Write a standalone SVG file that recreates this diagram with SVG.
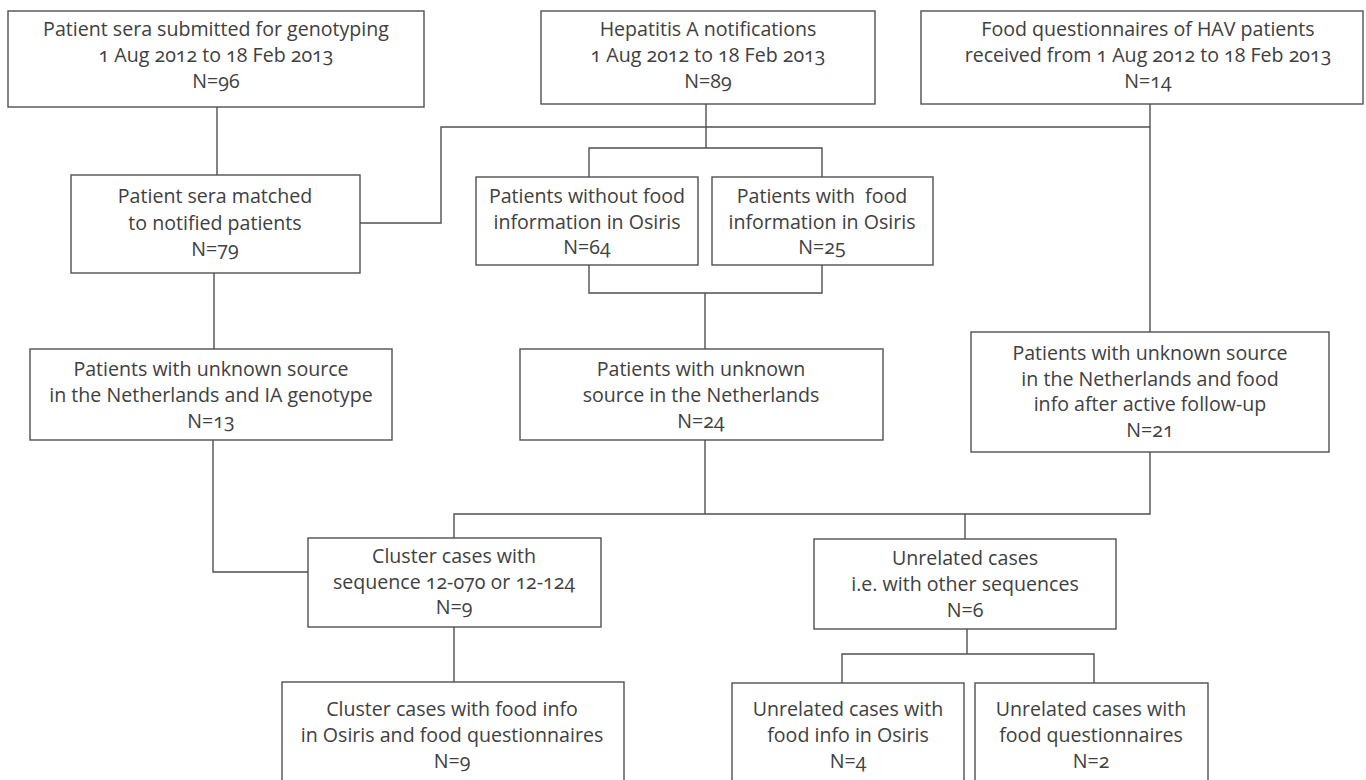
<svg xmlns="http://www.w3.org/2000/svg" width="1366" height="780" viewBox="0 0 1366 780">
<style>
rect.box{fill:#ffffff;stroke:#505050;stroke-width:1.4}
text{font-family:"Open Sans","Noto Sans","Liberation Sans",sans-serif;font-size:19.6px;fill:#404040;text-anchor:middle;font-variant-numeric:oldstyle-nums}
#connectors path{fill:none;stroke:#505050;stroke-width:1.4}
</style>
<rect width="1366" height="780" fill="#ffffff"/>
<g id="connectors">
<path d="M217,107 V175"/>
<path d="M360,223 H441 V127 H1150"/>
<path d="M1150,104 V332"/>
<path d="M706,104 V148"/>
<path d="M589,177 V148 H822 V177"/>
<path d="M589,265 V293 H822 V265"/>
<path d="M705,293 V349"/>
<path d="M214,273 V349"/>
<path d="M213,440 V572 H308"/>
<path d="M705,440 V514"/>
<path d="M454,538 V514 H1150 V452"/>
<path d="M965,514 V539"/>
<path d="M454,627 V682"/>
<path d="M967,629 V654"/>
<path d="M842,683 V654 H1094 V683"/>
</g>
<g id="n-sera">
<rect class="box" x="8" y="11" width="416" height="96"/>
<text x="216" y="36">Patient sera submitted for genotyping</text>
<text x="216" y="62">1 Aug 2012 to 18 Feb 2013</text>
<text x="216" y="88">N=96</text>
</g>
<g id="n-notifications">
<rect class="box" x="541" y="11" width="334" height="93"/>
<text x="708" y="36">Hepatitis A notifications</text>
<text x="708" y="62">1 Aug 2012 to 18 Feb 2013</text>
<text x="708" y="88">N=89</text>
</g>
<g id="n-questionnaires">
<rect class="box" x="921" y="11" width="442" height="93"/>
<text x="1148" y="36">Food questionnaires of HAV patients</text>
<text x="1148" y="62">received from 1 Aug 2012 to 18 Feb 2013</text>
<text x="1148" y="88">N=14</text>
</g>
<g id="n-matched">
<rect class="box" x="71" y="175" width="289" height="98"/>
<text x="215" y="203">Patient sera matched</text>
<text x="215" y="229.5">to notified patients</text>
<text x="215" y="256">N=79</text>
</g>
<g id="n-without-food">
<rect class="box" x="476" y="177" width="222" height="88"/>
<text x="587" y="203">Patients without food</text>
<text x="587" y="228.5">information in Osiris</text>
<text x="587" y="254">N=64</text>
</g>
<g id="n-with-food">
<rect class="box" x="712" y="177" width="221" height="88"/>
<text x="822" y="203" style="white-space:pre">Patients with  food</text>
<text x="822" y="228.5">information in Osiris</text>
<text x="822" y="254">N=25</text>
</g>
<g id="n-ia-genotype">
<rect class="box" x="30" y="349" width="362" height="91"/>
<text x="211" y="376">Patients with unknown source</text>
<text x="211" y="402">in the Netherlands and IA genotype</text>
<text x="211" y="428">N=13</text>
</g>
<g id="n-unknown-source">
<rect class="box" x="520" y="349" width="363" height="91"/>
<text x="701" y="376">Patients with unknown</text>
<text x="701" y="402">source in the Netherlands</text>
<text x="701" y="428">N=24</text>
</g>
<g id="n-follow-up">
<rect class="box" x="971" y="332" width="358" height="120"/>
<text x="1150" y="360">Patients with unknown source</text>
<text x="1150" y="385.5">in the Netherlands and food</text>
<text x="1150" y="411">info after active follow-up</text>
<text x="1150" y="437">N=21</text>
</g>
<g id="n-cluster">
<rect class="box" x="308" y="538" width="293" height="89"/>
<text x="454" y="563">Cluster cases with</text>
<text x="454" y="588.5">sequence 12-070 or 12-124</text>
<text x="454" y="614">N=9</text>
</g>
<g id="n-unrelated">
<rect class="box" x="814" y="539" width="302" height="90"/>
<text x="965" y="565">Unrelated cases</text>
<text x="965" y="591">i.e. with other sequences</text>
<text x="965" y="617">N=6</text>
</g>
<g id="n-cluster-food">
<rect class="box" x="282" y="682" width="342" height="120"/>
<text x="452" y="716">Cluster cases with food info</text>
<text x="452" y="742">in Osiris and food questionnaires</text>
<text x="452" y="768">N=9</text>
</g>
<g id="n-unrelated-osiris">
<rect class="box" x="732" y="683" width="232" height="120"/>
<text x="848" y="716">Unrelated cases with</text>
<text x="848" y="742">food info in Osiris</text>
<text x="848" y="768">N=4</text>
</g>
<g id="n-unrelated-questionnaires">
<rect class="box" x="975" y="683" width="233" height="120"/>
<text x="1091" y="716">Unrelated cases with</text>
<text x="1091" y="742">food questionnaires</text>
<text x="1091" y="768">N=2</text>
</g>
</svg>
